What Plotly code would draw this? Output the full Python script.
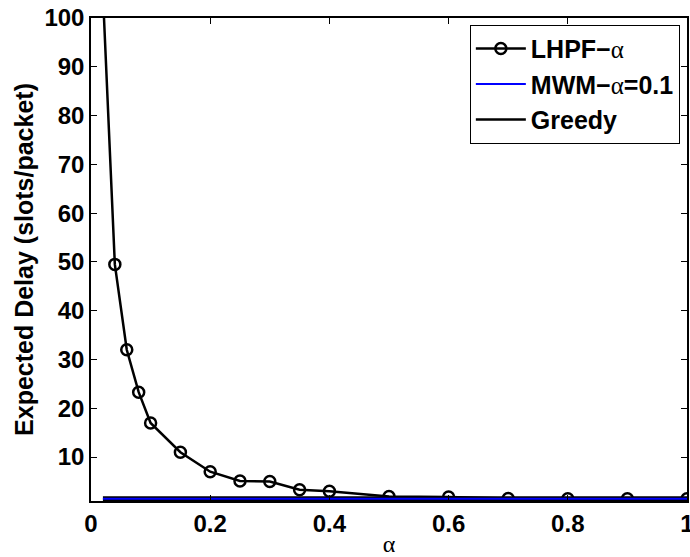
import plotly.graph_objects as go

alpha = [0.02, 0.04, 0.06, 0.08, 0.10, 0.15, 0.20, 0.25, 0.30, 0.35, 0.40, 0.50, 0.60, 0.70, 0.80, 0.90, 1.00]
lhpf = [105, 49.5, 32.0, 23.3, 17.0, 11.0, 7.0, 5.1, 5.0, 3.3, 3.0, 1.9, 1.8, 1.5, 1.45, 1.45, 1.45]
mwm_x = [0.02, 1.0]
mwm = [1.45, 1.45]
greedy_x = [0.02, 1.0]
greedy = [1.45, 1.45]
xticks = [0, 0.2, 0.4, 0.6, 0.8, 1]
xticklabels = ["0", "0.2", "0.4", "0.6", "0.8", "1"]
yticks = [10, 20, 30, 40, 50, 60, 70, 80, 90, 100]

SERIF = "Liberation Serif, Times New Roman, serif"
SANS = "Liberation Sans, Arial, Helvetica, sans-serif"

fig = go.Figure()
fig.add_trace(go.Scatter(
    x=alpha, y=lhpf, mode="lines+markers",
    name="<b>LHPF−</b><span style='font-family:%s'>α</span>" % SERIF,
    line=dict(color="black", width=2.5),
    marker=dict(symbol="circle-open", size=11, color="black", line=dict(width=2.5)),
))
fig.add_trace(go.Scatter(
    x=greedy_x, y=greedy, mode="lines", showlegend=False,
    line=dict(color="black", width=5), hoverinfo="skip",
))
fig.add_trace(go.Scatter(
    x=mwm_x, y=mwm, mode="lines",
    name="<b>MWM−</b><span style='font-family:%s'>α</span><b>=0.1</b>" % SERIF,
    line=dict(color="#0000ff", width=2),
))
fig.add_trace(go.Scatter(
    x=[None], y=[None], mode="lines", name="<b>Greedy</b>",
    line=dict(color="black", width=2.5),
))

fig.update_layout(
    width=690, height=557,
    margin=dict(l=91, r=3, t=18, b=56),
    paper_bgcolor="white", plot_bgcolor="white",
    font=dict(family=SANS, color="black", size=20),
    legend=dict(
        x=0.988, y=0.986, xanchor="right", yanchor="top",
        bgcolor="white", bordercolor="black", borderwidth=1,
        font=dict(family=SANS, size=25, color="black"),
        tracegroupgap=0, itemwidth=50,
    ),
    xaxis=dict(
        range=[0, 1], tickvals=xticks, ticktext=["<b>%s</b>" % t for t in xticklabels],
        ticks="inside", ticklen=6, tickcolor="black", mirror="ticks",
        showline=True, linecolor="black", linewidth=1.5, showgrid=False, zeroline=False,
        tickfont=dict(family=SANS, size=24, color="black"),
        ticklabeloverflow="allow", automargin=False,
        title=dict(text="α", font=dict(family=SERIF, size=24, color="black"), standoff=4),
    ),
    yaxis=dict(
        range=[1, 100], tickvals=yticks, ticktext=["<b>%d</b>" % t for t in yticks],
        ticks="inside", ticklen=6, tickcolor="black", mirror="ticks",
        showline=True, linecolor="black", linewidth=1.5, showgrid=False, zeroline=False,
        tickfont=dict(family=SANS, size=24, color="black"), automargin=False,
        title=dict(text="<b>Expected Delay (slots/packet)</b>", font=dict(family=SANS, size=25, color="black"), standoff=4),
    ),
)

fig.write_html("out.html")
